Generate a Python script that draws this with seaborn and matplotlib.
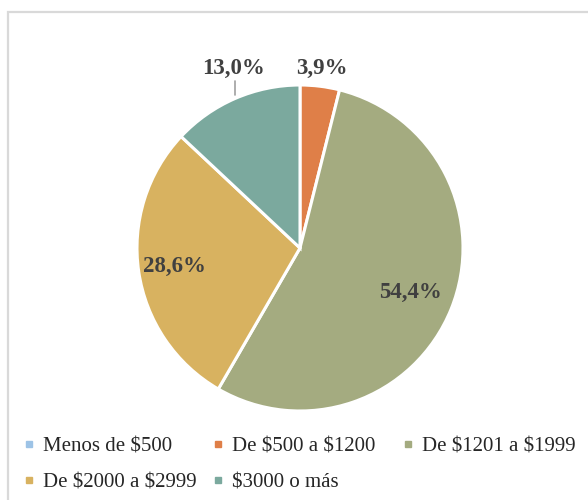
import numpy as np
import matplotlib
matplotlib.use("Agg")
import matplotlib.pyplot as plt
import seaborn as sns
from matplotlib.lines import Line2D
from matplotlib.patches import Rectangle

categories = ["Menos de $500", "De $500 a $1200", "De $1201 a $1999",
              "De $2000 a $2999", "$3000 o más"]
values = [0.0, 3.9, 54.4, 28.6, 13.0]
labels = ["", "3,9%", "54,4%", "28,6%", "13,0%"]
colors = ["#9DC3E6", "#DF7F48", "#A4AB80", "#D8B260", "#7BA99E"]

sns.set_theme(style="white")
plt.rcParams['font.family'] = ['Liberation Serif', 'DejaVu Serif']
plt.rcParams['text.parse_math'] = False

W, H = 588, 500
fig = plt.figure(figsize=(W / 100, H / 100), dpi=100)
fig.patch.set_facecolor("white")

# frame border
fig.add_artist(Rectangle((8 / W, -0.1), 1.2, (H - 12) / H + 0.1,
                         transform=fig.transFigure, fill=False,
                         edgecolor="#D9D9D9", linewidth=1.6))

cx, cy, R = 300, 248, 163
ax = fig.add_axes([0, 0, 1, 1])

wedges, _ = ax.pie(values, colors=colors, startangle=90, counterclock=False,
                   radius=1.0, center=(0, 0),
                   wedgeprops=dict(edgecolor="white", linewidth=2.2))
ax.set_xlim(-cx / R, (W - cx) / R)
ax.set_ylim((cy - H) / R, cy / R)
ax.set_aspect("equal")
ax.axis("off")

dist = {1: 1.11, 2: 0.73, 3: 0.78}
fs = 16.5
for i, w in enumerate(wedges):
    if not labels[i]:
        continue
    ang = np.deg2rad((w.theta1 + w.theta2) / 2)
    if i == 4:
        x0, y0 = np.cos(ang), np.sin(ang)
        ax.plot([x0, x0], [y0 + 0.02, y0 + 0.105], color="#A0A0A0", lw=1.2)
        ax.text(x0 - 0.01, 1.104, labels[i], ha="center", va="center",
                fontsize=fs, fontweight="bold", color="#404040")
    else:
        r = dist[i]
        ax.text(r * np.cos(ang), r * np.sin(ang), labels[i], ha="center",
                va="center", fontsize=fs, fontweight="bold", color="#404040")

handles = [Line2D([], [], marker="s", linestyle="none", markersize=3.7,
                  markerfacecolor=c, markeredgecolor=c) for c in colors]
# equal-width legend columns (row-major order, 3 per row)
col_x = [24, 213.5, 403]
ncol = 3
legs = []
for c in range(ncol):
    idx = list(range(c, len(categories), ncol))
    leg = fig.legend([handles[i] for i in idx], [categories[i] for i in idx],
                     loc="upper left", bbox_to_anchor=(col_x[c] / W, 1 - 437 / H),
                     ncol=1, frameon=False, fontsize=15,
                     handlelength=0.45, handletextpad=0.45,
                     labelspacing=0.78, borderaxespad=0, borderpad=0)
    for t in leg.get_texts():
        t.set_color("#262626")
    legs.append(leg)

fig.savefig("out.png", dpi=100)
